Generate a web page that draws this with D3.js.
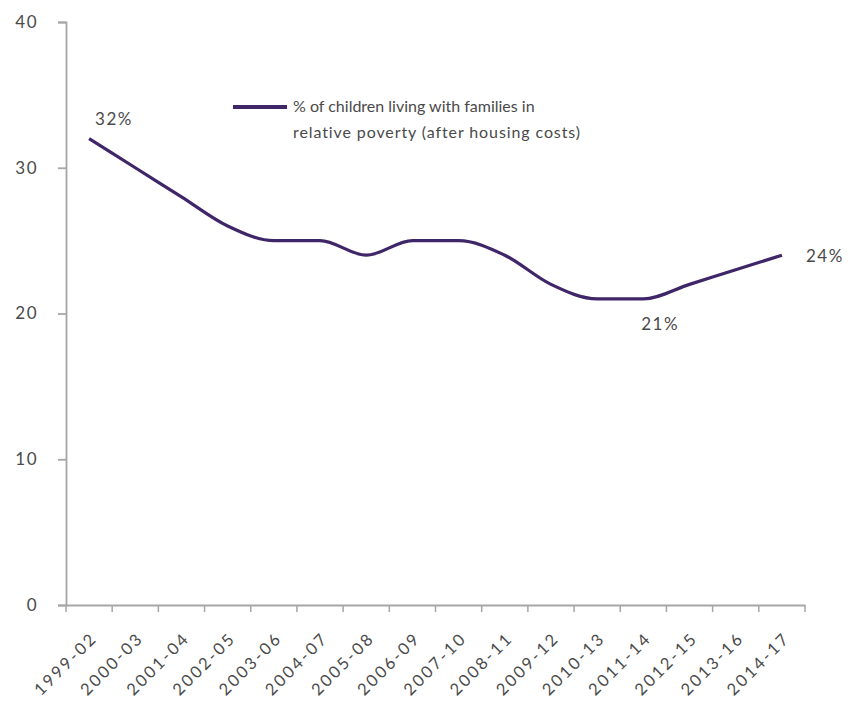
<!DOCTYPE html>
<html><head><meta charset="utf-8">
<script src="https://cdn.jsdelivr.net/npm/d3@7"></script>
<style>body{margin:0;background:#fff;} text{font-family:Lato,"Open Sans",sans-serif;}</style>
</head><body>
<svg id="c" width="850" height="727"></svg>
<script>
const categories = ["1999-02","2000-03","2001-04","2002-05","2003-06","2004-07","2005-08","2006-09","2007-10","2008-11","2009-12","2010-13","2011-14","2012-15","2013-16","2014-17"];
const values = [32,30,28,26,25,25,24,25,25,24,22,21,21,22,23,24];
const yTicks = [0,10,20,30,40];
const seriesName = ["% of children living with families in","relative poverty (after housing costs)"];
const pointLabels = [{i:0,text:"32%",dx:6,dy:-18},{i:11,text:"21%",dx:44,dy:27},{i:15,text:"24%",dx:24,dy:2}];

const svg = d3.select("#c");
const mLeft=66, mRight=805, mTop=22, mBottom=605;
const x = d3.scaleBand().domain(categories).range([mLeft,mRight]);
const y = d3.scaleLinear().domain([0,40]).range([mBottom,mTop]);
const axisCol="#a6a6a6", textCol="#4a4a4a", lineCol="#3f2668";

const ya = svg.append("g").attr("transform",`translate(${mLeft},0)`)
  .call(d3.axisLeft(y).tickValues(yTicks).tickSize(8).tickPadding(20));
ya.selectAll("line,path").attr("stroke",axisCol).attr("stroke-width",1.8);
ya.selectAll("text").attr("fill",textCol).style("font-size","17px").style("letter-spacing","1.5px");

const xa = svg.append("g").attr("transform",`translate(0,${mBottom})`)
  .call(d3.axisBottom(x).tickSize(0).tickSizeOuter(0));
xa.select("path").attr("stroke",axisCol).attr("stroke-width",1.8);
xa.selectAll(".tick line").remove();
xa.selectAll("text").attr("fill",textCol).style("font-size","16.5px").style("letter-spacing","2.5px")
  .attr("text-anchor","end").attr("dy",null).attr("y",0).attr("dominant-baseline","central")
  .attr("transform","translate(5,30) rotate(-45)");
svg.append("g").selectAll("line").data(categories.concat(["end"])).join("line")
  .attr("x1",(d,i)=>mLeft+i*x.step()).attr("x2",(d,i)=>mLeft+i*x.step())
  .attr("y1",mBottom).attr("y2",mBottom+7).attr("stroke",axisCol).attr("stroke-width",1.5);

const line = d3.line().x((d,i)=>x(categories[i])+x.bandwidth()/2).y(d=>y(d)).curve(d3.curveMonotoneX);
svg.append("path").datum(values).attr("d",line).attr("fill","none")
  .attr("stroke",lineCol).attr("stroke-width",3.2);

svg.append("g").selectAll("text").data(pointLabels).join("text")
  .attr("x",d=>x(categories[d.i])+x.bandwidth()/2+d.dx)
  .attr("y",d=>y(values[d.i])+d.dy)
  .attr("dominant-baseline","middle").attr("fill",textCol).style("font-size","17px").style("letter-spacing","1.5px")
  .text(d=>d.text);

svg.append("line").attr("x1",233).attr("x2",287).attr("y1",107).attr("y2",107)
  .attr("stroke",lineCol).attr("stroke-width",4);
svg.append("g").selectAll("text").data(seriesName).join("text")
  .attr("x",293).attr("y",(d,i)=>108+i*26).attr("dominant-baseline","middle")
  .attr("fill",textCol).style("font-size","16px").style("letter-spacing",(d,i)=>i?"0.9px":"0px").text(d=>d);
</script>
</body></html>
